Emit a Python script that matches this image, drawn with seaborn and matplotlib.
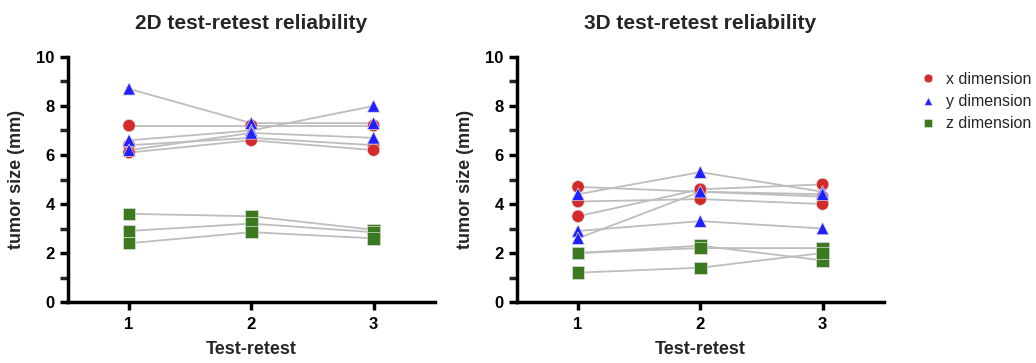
import pandas as pd
import numpy as np
import matplotlib
matplotlib.use('Agg')
import matplotlib.pyplot as plt
import seaborn as sns
from matplotlib.ticker import MultipleLocator

sns.set_theme(style='ticks')
plt.rcParams['font.family'] = ['Liberation Sans', 'DejaVu Sans']
plt.rcParams['font.weight'] = 'bold'

# 데이터
tests = [1, 2, 3]
dims = ['x dimension', 'y dimension', 'z dimension']

# 2D
x2d = [[7.2, 7.2, 7.2], [6.4, 6.7, 6.4], [6.1, 6.6, 6.2]]
y2d = [[8.7, 7.3, 7.3], [6.6, 7.0, 8.0], [6.2, 6.9, 6.7]]
z2d = [[3.6, 3.5, 2.95], [2.9, 3.2, 2.85], [2.4, 2.85, 2.6]]

# 3D
x3d = [[4.7, 4.5, 4.3], [4.1, 4.2, 4.0], [3.5, 4.6, 4.8]]
y3d = [[4.4, 5.3, 4.5], [2.9, 3.3, 3.0], [2.6, 4.5, 4.4]]
z3d = [[2.0, 2.3, 1.7], [2.0, 2.2, 2.2], [1.2, 1.4, 2.0]]

titles = ['2D test-retest reliability', '3D test-retest reliability']


def to_long(xs, ys, zs):
    rows = []
    for dim, series in zip(dims, [xs, ys, zs]):
        for i, vals in enumerate(series):
            for t, v in zip(tests, vals):
                rows.append({'dim': dim, 'subj': f'{dim[0]}{i}', 'test': t, 'size': v})
    return pd.DataFrame(rows)


data = [to_long(x2d, y2d, z2d), to_long(x3d, y3d, z3d)]

palette = {'x dimension': '#d42a2a', 'y dimension': '#2020ff', 'z dimension': '#3b7a1e'}
markers = {'x dimension': 'o', 'y dimension': '^', 'z dimension': 's'}

fig = plt.figure(figsize=(10.36, 3.63), dpi=100)
positions = [[0.0656, 0.168, 0.354, 0.675], [0.499, 0.168, 0.354, 0.675]]

for k, df in enumerate(data):
    ax = fig.add_axes(positions[k])
    sns.lineplot(data=df, x='test', y='size', units='subj', estimator=None,
                 color='#bdbdbd', lw=1.3, ax=ax, legend=False, zorder=1)
    sns.scatterplot(data=df, x='test', y='size', hue='dim', style='dim',
                    palette=palette, markers=markers, s=80, edgecolor='#dddddd',
                    linewidth=0.5, ax=ax, legend=(k == 1), zorder=3)
    ax.set_xlim(0.5, 3.5)
    ax.set_ylim(0, 10)
    ax.set_xticks(tests)
    ax.yaxis.set_major_locator(MultipleLocator(2))
    ax.yaxis.set_minor_locator(MultipleLocator(1))
    sns.despine(ax=ax)
    for side in ['left', 'bottom']:
        ax.spines[side].set_linewidth(2.5)
        ax.spines[side].set_color('black')
    ax.tick_params(axis='both', which='major', length=6, width=2.5, labelsize=12, colors='black')
    ax.tick_params(axis='y', which='minor', length=6, width=2.5)
    ax.tick_params(axis='x', pad=5)
    for lab in ax.get_xticklabels() + ax.get_yticklabels():
        lab.set_fontweight('bold')
    ax.set_xlabel('Test-retest', fontsize=13, fontweight='bold', labelpad=6)
    ax.set_ylabel('tumor size (mm)', fontsize=13, fontweight='bold', labelpad=8)
    ax.set_title(titles[k], fontsize=15, fontweight='bold', pad=20)
    if k == 1:
        leg = ax.legend(loc='upper left', bbox_to_anchor=(1.06, 0.965), frameon=False,
                        fontsize=11.5, handletextpad=0.15, labelspacing=0.45,
                        markerscale=0.7, borderaxespad=0)
        for t in leg.get_texts():
            t.set_fontweight('normal')

plt.savefig('out.png', dpi=100)
plt.close()
